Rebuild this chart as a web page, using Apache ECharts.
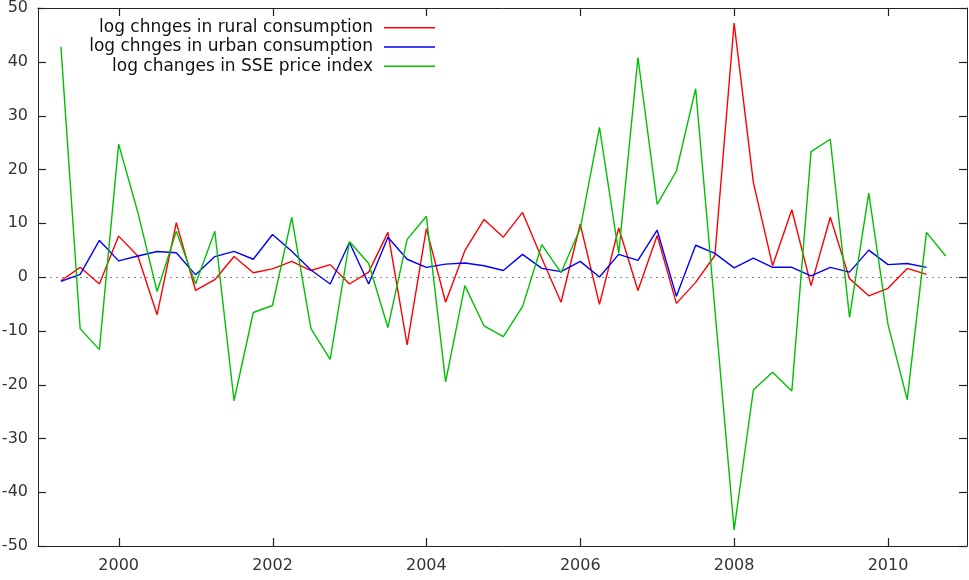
<!DOCTYPE html>
<html>
<head>
<meta charset="utf-8">
<script src="https://cdn.jsdelivr.net/npm/echarts@6/dist/echarts.min.js"></script>
<style>html,body{margin:0;padding:0;background:#fff;}#c{width:969px;height:580px;}</style>
</head>
<body>
<div id="c"></div>
<script>
// Quarterly observation times (decimal years)
var quarters = [
  1999.25, 1999.5, 1999.75, 2000.0, 2000.25, 2000.5, 2000.75, 2001.0,
  2001.25, 2001.5, 2001.75, 2002.0, 2002.25, 2002.5, 2002.75, 2003.0,
  2003.25, 2003.5, 2003.75, 2004.0, 2004.25, 2004.5, 2004.75, 2005.0,
  2005.25, 2005.5, 2005.75, 2006.0, 2006.25, 2006.5, 2006.75, 2007.0,
  2007.25, 2007.5, 2007.75, 2008.0, 2008.25, 2008.5, 2008.75, 2009.0,
  2009.25, 2009.5, 2009.75, 2010.0, 2010.25, 2010.5, 2010.75
];
var seriesNames = [
  'log chnges in rural consumption',
  'log chnges in urban consumption',
  'log changes in SSE price index'
];
var rural = [
  -0.7, 1.8, -1.3, 7.6, 3.9, -7.0, 10.1, -2.5,
  -0.5, 3.8, 0.8, 1.5, 2.9, 1.2, 2.3, -1.3,
  0.9, 8.3, -12.6, 9.0, -4.7, 4.9, 10.7, 7.4,
  12.0, 3.5, -4.7, 9.8, -5.1, 9.1, -2.5, 7.7,
  -4.9, -1.0, 4.0, 47.2, 17.6, 2.1, 12.5, -1.6,
  11.1, -0.3, -3.5, -2.1, 1.6, 0.5
];
var urban = [
  -0.8, 0.5, 6.8, 3.0, 3.9, 4.75, 4.5, 0.4,
  3.8, 4.75, 3.3, 7.9, 4.8, 1.3, -1.3, 6.4,
  -1.3, 7.4, 3.3, 1.8, 2.4, 2.6, 2.1, 1.2,
  4.2, 1.6, 1.0, 2.9, 0.0, 4.2, 3.1, 8.7,
  -3.6, 5.9, 4.4, 1.7, 3.5, 1.8, 1.8, 0.2,
  1.8, 0.9, 5.0, 2.3, 2.5, 1.8
];
var sse = [
  42.8, -9.6, -13.5, 24.7, 12.0, -2.7, 8.5, -1.3,
  8.5, -23.0, -6.6, -5.3, 11.1, -9.6, -15.3, 6.6,
  2.5, -9.4, 7.0, 11.3, -19.5, -1.6, -9.1, -11.1,
  -5.5, 6.0, 0.8, 9.0, 27.8, 4.4, 40.8, 13.5,
  19.7, 35.0, -6.0, -47.0, -21.0, -17.7, -21.2, 23.3,
  25.6, -7.5, 15.6, -8.8, -22.8, 8.3, 3.9
];
var xTickValues = [2000, 2002, 2004, 2006, 2008, 2010];
var yTickValues = [-50, -40, -30, -20, -10, 0, 10, 20, 30, 40, 50];
var yMin = -50, yMax = 50, yStep = 10;
var xMin = 1998.952, xMax = 2011.027;

function pairs(vals) {
  var out = [];
  for (var i = 0; i < vals.length; i++) out.push([quarters[i], vals[i]]);
  return out;
}

var colors = ['#ff0000', '#0000ff', '#00c000'];
var font = 'DejaVu Sans';
var frameColor = '#222';

function line() {
  return {show: true, onZero: false, lineStyle: {color: frameColor, width: 1}};
}

var chart = echarts.init(document.getElementById('c'), null, {renderer: 'canvas'});
chart.setOption({
  animation: false,
  backgroundColor: '#fff',
  grid: {left: 38, right: 2, top: 8, bottom: 34, show: false,
         containLabel: false, outerBoundsMode: 'none'},
  legend: {
    data: seriesNames,
    orient: 'vertical',
    align: 'right',
    right: 534,
    top: 18,
    padding: 0,
    itemGap: 0,
    itemWidth: 51,
    itemHeight: 1.5,
    icon: 'rect',
    textStyle: {fontFamily: font, fontSize: 17, color: '#111', lineHeight: 19.3, padding: [0, 6, 0, 0]}
  },
  xAxis: [{
    type: 'value', min: xMin, max: xMax, position: 'bottom',
    axisLine: line(), axisTick: {show: false},
    axisLabel: {customValues: xTickValues, margin: 12, fontFamily: font, fontSize: 16, color: '#333',
                formatter: function (v) { return String(v); }},
    splitLine: {show: false}
  }, {
    type: 'value', min: xMin, max: xMax, position: 'top',
    axisLine: line(), axisTick: {show: false}, axisLabel: {show: false}, splitLine: {show: false}
  }],
  yAxis: [{
    type: 'value', min: yMin, max: yMax, interval: yStep, position: 'left',
    axisLine: line(), axisTick: {show: false},
    axisLabel: {margin: 10, fontFamily: font, fontSize: 16, color: '#333'},
    splitLine: {show: false}
  }, {
    type: 'value', min: yMin, max: yMax, interval: yStep, position: 'right',
    axisLine: line(), axisTick: {show: false}, axisLabel: {show: false}, splitLine: {show: false}
  }],
  series: [
    {name: seriesNames[0], type: 'line', data: pairs(rural), showSymbol: false, symbol: 'none',
     lineStyle: {color: colors[0], width: 1.4}, itemStyle: {color: colors[0]}, z: 3,
     markLine: {silent: true, symbol: ['none', 'none'], label: {show: false}, z: 1,
                lineStyle: {color: '#888', type: [2, 4], width: 1}, data: [{yAxis: 0}]}},
    {name: seriesNames[1], type: 'line', data: pairs(urban), showSymbol: false, symbol: 'none',
     lineStyle: {color: colors[1], width: 1.4}, itemStyle: {color: colors[1]}, z: 3},
    {name: seriesNames[2], type: 'line', data: pairs(sse), showSymbol: false, symbol: 'none',
     lineStyle: {color: colors[2], width: 1.4}, itemStyle: {color: colors[2]}, z: 3}
  ]
});

// Inward-pointing mirrored tick marks on all four sides, placed through the axis scales
var TL = 8;
var ticks = [];
function tickLine(x1, y1, x2, y2) {
  ticks.push({type: 'line', silent: true, z: 100,
              shape: {x1: x1, y1: y1, x2: x2, y2: y2},
              style: {stroke: frameColor, lineWidth: 1.2}});
}
var finder = {xAxisIndex: 0, yAxisIndex: 0};
xTickValues.forEach(function (v) {
  var b = chart.convertToPixel(finder, [v, yMin]);
  var t = chart.convertToPixel(finder, [v, yMax]);
  var x = Math.round(b[0]) + 0.5;
  tickLine(x, b[1], x, b[1] - TL);
  tickLine(x, t[1], x, t[1] + TL);
});
yTickValues.forEach(function (v) {
  var l = chart.convertToPixel(finder, [xMin, v]);
  var r = chart.convertToPixel(finder, [xMax, v]);
  var y = Math.round(l[1]) + 0.5;
  tickLine(l[0], y, l[0] + TL, y);
  tickLine(r[0], y, r[0] - TL, y);
});
chart.setOption({graphic: {elements: ticks}});
</script>
</body>
</html>
